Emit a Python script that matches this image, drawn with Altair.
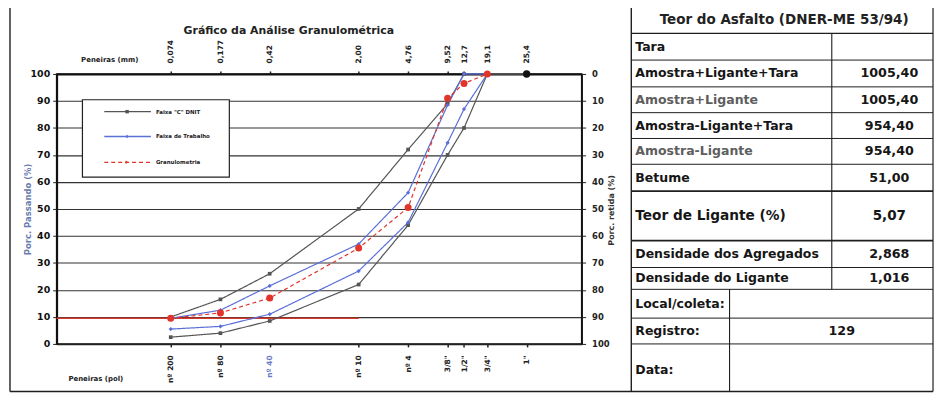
import altair as alt
import pandas as pd

# ---------------- data ----------------
chart_title = "Gráfico da Análise Granulométrica"
sieve_mm = ["0,074", "0,177", "0,42", "2,00", "4,76", "9,52", "12,7", "19,1", "25,4"]
sieve_pol = ["nº 200", "nº 80", "nº 40", "nº 10", "nº 4", '3/8"', '1/2"', '3/4"', '1"']
# abscissa (log axis) where each sieve is drawn in the original chart
sieve_x = [0.074, 0.177, 0.42, 2.00, 4.76, 9.52, 12.7, 19.1, 38.1]

faixa_c_sup = [10, 16.5, 26, 50, 72, 89, 100, 100, 100]
faixa_c_inf = [2.5, 4, 8.5, 22, 44, 70, 80, 100, 100]
trabalho_sup = [9.5, 12.5, 21.5, 37, 56, 88.5, 100, 100]
trabalho_inf = [5.5, 6.5, 11, 27, 45, 74.5, 87, 100]
granulometria = [9.5, 11.5, 17, 35.5, 50.5, 91, 96.5, 100]
ponto_1pol = [100]
limite_x = [0.01, 2.00]
limite_y = [9.5]

series_names = ['Faixa "C" DNIT', "Faixa de Trabalho", "Granulometria"]
series_colors = ["#555555", "#5b6fd8", "#e0352b"]
y_ticks = [0, 10, 20, 30, 40, 50, 60, 70, 80, 90, 100]

table_title = "Teor do Asfalto (DNER-ME 53/94)"
table_labels = ["Tara", "Amostra+Ligante+Tara", "Amostra+Ligante", "Amostra-Ligante+Tara",
                "Amostra-Ligante", "Betume", "Teor de Ligante (%)", "Densidade dos Agregados",
                "Densidade do Ligante", "Local/coleta:", "Registro:", "Data:"]
table_values = ["", "1005,40", "1005,40", "954,40", "954,40", "51,00", "5,07", "2,868",
                "1,016", "", "129", ""]
gray_labels = ["Amostra+Ligante", "Amostra-Ligante"]

# ---------------- layout (page pixels) ----------------
FONT = "DejaVu Sans"
W, H = 529, 272
X0, Y0 = 57, 73  # page position of plot area's top-left
row_y = [45.5, 72, 99, 125, 151, 177.5, 216, 254.5, 279, 304.5, 332, 371]
label_x = 640
value_x = 896
registro_x = 848

hlines = [(5, 10, 940, 1.4), (32, 636, 940, 1.3), (59, 636, 940, 1), (86, 636, 940, 1),
          (112, 636, 940, 1), (138, 636, 940, 1), (164, 636, 940, 1), (191, 636, 940, 1.8),
          (241, 636, 940, 1.8), (268, 636, 940, 1), (290, 636, 940, 1), (319, 636, 940, 1),
          (345, 636, 940, 1), (393, 10, 940, 1.4)]
vlines = [(10, 5, 393, 1.4), (636, 5, 393, 1.4), (940, 5, 393, 1.2), (838, 32, 290, 1.1),
          (735, 290, 393, 1.1)]

xs = alt.Scale(type="log", domain=[0.01, 100], nice=False)
ys = alt.Scale(domain=[0, 100], nice=False, zero=False)
pxs = alt.Scale(type="linear", domain=[X0, X0 + W], nice=False, zero=False)
pys = alt.Scale(type="linear", domain=[Y0, Y0 + H], nice=False, zero=False, reverse=True)


def lookup_expr(labels, values):
    arr = "[" + ",".join("'" + s + "'" for s in labels) + "]"
    vals = "[" + ",".join(repr(float(v)) for v in values) + "]"
    return f"{arr}[indexof({vals}, datum.value)]"


rows = []
for serie, grupo, vals in [("c_sup", series_names[0], faixa_c_sup),
                           ("c_inf", series_names[0], faixa_c_inf),
                           ("t_sup", series_names[1], trabalho_sup),
                           ("t_inf", series_names[1], trabalho_inf),
                           ("gran", series_names[2], granulometria)]:
    for xv, v in zip(sieve_x, vals):
        rows.append({"x": xv, "y": v, "serie": serie, "grupo": grupo})
df = pd.DataFrame(rows)

X = alt.X("x:Q", scale=xs, axis=None)
Y = alt.Y("y:Q", scale=ys, axis=None)
C = alt.Color("grupo:N", scale=alt.Scale(domain=series_names, range=series_colors), legend=None)
D = alt.StrokeDash("grupo:N", scale=alt.Scale(domain=series_names, range=[[1, 0], [1, 0], [4, 3]]),
                   legend=None)

# axes: bottom + left (with grid)
axis_df = pd.DataFrame({"x": sieve_x, "y": [0] * len(sieve_x)})
axes_bl = alt.Chart(axis_df).mark_point(opacity=0).encode(
    x=alt.X("x:Q", scale=xs, axis=alt.Axis(
        orient="bottom", values=sieve_x, labelExpr=lookup_expr(sieve_pol, sieve_x),
        labelAngle=270, labelFont=FONT, labelFontSize=7.5, labelFontWeight="bold",
        labelColor={"expr": "datum.value == 0.42 ? '#6a7cc4' : '#222'"},
        labelPadding=8, tickSize=3, tickWidth=1.5, tickColor="#222", domainColor="#222",
        domainWidth=1.5, grid=False, labelOverlap=False,
        title="Peneiras  (pol)", titleFont=FONT, titleFontSize=7, titleFontWeight="bold",
        titleAngle=0, titleX=39, titleY=35, titleAlign="center", titleBaseline="middle",
        titleColor="#222")),
    y=alt.Y("y:Q", scale=ys, axis=alt.Axis(
        orient="left", values=y_ticks, labelFont=FONT, labelFontSize=9.5, labelFontWeight="bold",
        labelColor="#111", labelPadding=3, tickSize=4, tickColor="#222", domainColor="#111",
        domainWidth=2, grid=True, gridColor="#333333", gridWidth=1.1,
        title="Porc. Passando (%)", titleFont=FONT, titleFontSize=8.5, titleFontWeight="bold",
        titleColor="#6a7cae", titleAngle=270, titleX=-29, titleY=136, titleAlign="center",
        titleBaseline="middle")),
)

# axes: top + right
axes_tr = alt.Chart(axis_df).mark_point(opacity=0).encode(
    x=alt.X("x:Q", scale=xs, axis=alt.Axis(
        orient="top", values=sieve_x, labelExpr=lookup_expr(sieve_mm, sieve_x),
        labelAngle=270, labelFont=FONT, labelFontSize=7.5, labelFontWeight="bold",
        labelColor="#222", labelPadding=8, tickSize=3, tickWidth=1.5, tickColor="#222",
        domainColor="#111", domainWidth=2, grid=False, labelOverlap=False,
        title="Peneiras  (mm)", titleFont=FONT, titleFontSize=7, titleFontWeight="bold",
        titleAngle=0, titleX=53, titleY=-15, titleAlign="center", titleBaseline="middle",
        titleColor="#222")),
    y=alt.Y("y:Q", scale=ys, axis=alt.Axis(
        orient="right", values=y_ticks, labelExpr="format(100 - datum.value, 'd')",
        labelFont=FONT, labelFontSize=8.5, labelFontWeight="bold", labelColor="#222",
        labelPadding=6, tickSize=4, tickColor="#222", domainColor="#111", domainWidth=1.5,
        grid=False, title="Porc. retida (%)", titleFont=FONT, titleFontSize=8,
        titleFontWeight="bold", titleColor="#333", titleAngle=270, titleX=30, titleY=137,
        titleAlign="center", titleBaseline="middle")),
)

lines = alt.Chart(df).mark_line(strokeWidth=1.2).encode(x=X, y=Y, color=C, strokeDash=D,
                                                         detail="serie:N")
pts_c = alt.Chart(df[df.grupo == series_names[0]]).mark_point(
    shape="square", filled=True, size=14, opacity=1).encode(x=X, y=Y, color=C)
pts_t = alt.Chart(df[df.grupo == series_names[1]]).mark_point(
    shape="diamond", filled=True, size=18, opacity=1).encode(x=X, y=Y, color=C)
pts_g = alt.Chart(df[df.grupo == series_names[2]]).mark_point(
    shape="circle", filled=True, size=50, opacity=1).encode(x=X, y=Y, color=C)

lim_df = pd.DataFrame({"x": [limite_x[0]], "x2": [limite_x[1]], "y": limite_y})
limit = alt.Chart(lim_df).mark_rule(color="#d23a2c", strokeWidth=1.6).encode(
    x=alt.X("x:Q", scale=xs, axis=None), x2="x2:Q", y=alt.Y("y:Q", scale=ys, axis=None))

dot_df = pd.DataFrame({"x": [sieve_x[-1]], "y": ponto_1pol})
dot = alt.Chart(dot_df).mark_circle(color="#111", size=55, opacity=1).encode(x=X, y=Y)

# ---------------- page-pixel layers: frame, table, legend box ----------------
PX = lambda f: alt.X(f, scale=pxs, axis=None)
PY = lambda f: alt.Y(f, scale=pys, axis=None)

rule_rows = [{"px": a, "px2": b, "py": y, "py2": y, "w": w} for (y, a, b, w) in hlines]
rule_rows += [{"px": x, "px2": x, "py": a, "py2": b, "w": w} for (x, a, b, w) in vlines]
rules = alt.Chart(pd.DataFrame(rule_rows)).mark_rule(color="#1e1e1e").encode(
    x=PX("px:Q"), x2="px2:Q", y=PY("py:Q"), y2="py2:Q",
    strokeWidth=alt.StrokeWidth("w:Q", scale=None, legend=None))


def text_layer(items, align, size, color="#111"):
    d = pd.DataFrame(items, columns=["px", "py", "t"])
    return alt.Chart(d).mark_text(align=align, baseline="middle", font=FONT, fontSize=size,
                                  fontWeight="bold", color=color).encode(
        x=PX("px:Q"), y=PY("py:Q"), text="t:N")


title_layer = text_layer([(291, 30, chart_title)], "center", 11, "#222")
head_layer = text_layer([(790, 19, table_title)], "center", 13.6, "#222")

lab_black, lab_gray, lab_big = [], [], []
for lab, yy in zip(table_labels, row_y):
    if lab in gray_labels:
        lab_gray.append((label_x, yy, lab))
    elif lab.startswith("Teor"):
        lab_big.append((label_x, yy, lab))
    else:
        lab_black.append((label_x, yy, lab))
val_norm, val_big = [], []
for lab, val, yy in zip(table_labels, table_values, row_y):
    if not val:
        continue
    xx = registro_x if lab.startswith("Registro") else value_x
    (val_big if lab.startswith("Teor") else val_norm).append((xx, yy, val))

t_black = text_layer(lab_black, "left", 12.6, "#161616")
t_gray = text_layer(lab_gray, "left", 12.6, "#5e5e5e")
t_big = text_layer(lab_big, "left", 13.8, "#161616")
v_norm = text_layer(val_norm, "center", 12.8, "#161616")
v_big = text_layer(val_big, "center", 13.6, "#161616")

# legend box (drawn inside the plot)
leg_box = alt.Chart(pd.DataFrame({"px": [83], "px2": [231], "py": [99], "py2": [177]})).mark_rect(
    fill="white", stroke="#222", strokeWidth=1.2).encode(
    x=PX("px:Q"), x2="px2:Q", y=PY("py:Q"), y2="py2:Q")
leg_y = [111, 136, 162]
leg_rows = [{"px": 105, "px2": 152, "py": yy, "grupo": g} for yy, g in zip(leg_y, series_names)]
leg_df = pd.DataFrame(leg_rows)
leg_lines = alt.Chart(leg_df).mark_rule(strokeWidth=1.3).encode(
    x=PX("px:Q"), x2="px2:Q", y=PY("py:Q"), color=C, strokeDash=D)
leg_mark_df = pd.DataFrame({"px": [128, 128, 128], "py": leg_y, "grupo": series_names})
leg_marks = alt.Chart(leg_mark_df).mark_point(filled=True, size=12, opacity=1).encode(
    x=PX("px:Q"), y=PY("py:Q"), color=C,
    shape=alt.Shape("grupo:N", scale=alt.Scale(domain=series_names,
                                               range=["square", "diamond", "triangle-right"]),
                    legend=None))
leg_text = text_layer([(157, yy, g) for yy, g in zip(leg_y, series_names)], "left", 5.5, "#222")

chart = alt.layer(
    rules, title_layer, head_layer, t_black, t_gray, t_big, v_norm, v_big,
    axes_bl, axes_tr, leg_box, leg_lines, leg_marks, leg_text,
    limit, lines, pts_c, pts_t, pts_g, dot,
).resolve_scale(
    x="independent", y="independent"
).resolve_axis(
    x="independent", y="independent"
).properties(
    width=W, height=H,
    autosize=alt.AutoSizeParams(type="none"),
    padding={"left": 49, "top": 65, "right": 356, "bottom": 50},
    background="white",
).configure_view(
    stroke="#111", strokeWidth=1.5
)

chart.save("out.html", embed_options={"renderer": "svg", "actions": False})
